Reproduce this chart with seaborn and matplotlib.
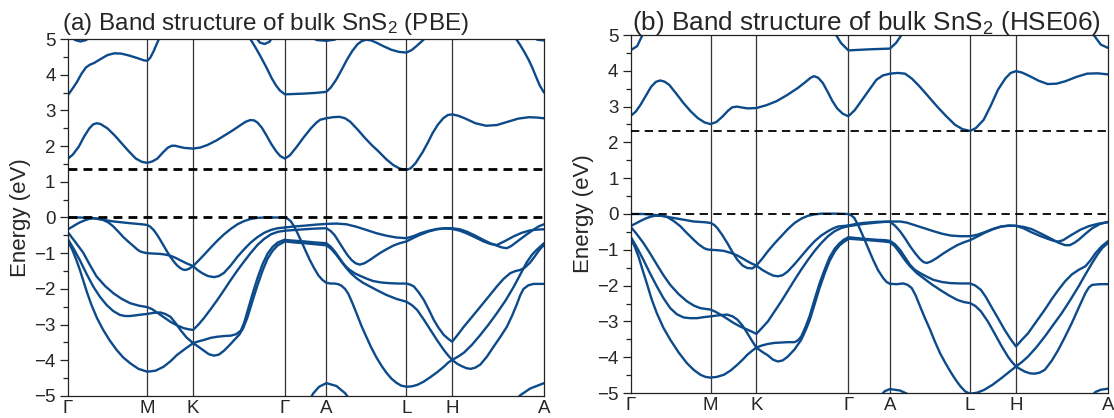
import numpy as np
import pandas as pd
import matplotlib
matplotlib.use("Agg")
import matplotlib.pyplot as plt
import seaborn as sns

# ---------------- data (k-path position in % of path, energy in eV) ----------------
kpath_labels = ["Γ", "M", "K", "Γ", "A", "L", "H", "A"]
kpath_pos = [0.0, 16.67, 26.28, 45.57, 54.28, 71.10, 80.71, 100.0]

pbe_gap_level = 1.35
hse_gap_level = 2.33

# ---- PBE conduction bands
pbe_c1 = [(0, 1.65), (1.0, 1.76), (2.25, 1.98), (3.4, 2.27), (4.5, 2.50), (5.3, 2.61), (6.0, 2.64),
          (6.8, 2.62), (8.26, 2.50), (9.8, 2.30), (11.26, 2.08), (12.8, 1.85), (14.26, 1.65),
          (15.5, 1.56), (16.67, 1.53), (17.7, 1.57), (18.77, 1.65), (20.0, 1.83), (21.02, 1.96),
          (21.8, 2.01), (22.52, 2.01), (23.4, 1.98), (24.4, 1.95), (26.28, 1.93), (27.8, 1.96),
          (29.28, 2.03), (31.2, 2.16), (33.03, 2.31), (34.6, 2.44), (36.04, 2.57), (37.3, 2.68),
          (38.3, 2.73), (39.1, 2.72), (39.8, 2.66), (40.7, 2.52), (41.7, 2.30), (42.7, 2.06),
          (43.7, 1.86), (44.6, 1.72), (45.57, 1.65), (46.6, 1.74), (48.05, 1.98), (49.6, 2.26),
          (51.05, 2.50), (52.2, 2.66), (53.0, 2.74), (54.28, 2.78), (55.7, 2.81), (57.06, 2.82),
          (58.2, 2.78), (59.31, 2.68), (60.8, 2.47), (62.31, 2.24), (63.8, 2.03), (65.32, 1.84),
          (66.8, 1.64), (68.32, 1.47), (69.7, 1.37), (71.1, 1.33), (72.0, 1.38), (73.0, 1.52),
          (74.5, 1.83), (75.6, 2.10), (76.58, 2.36), (77.7, 2.60), (78.83, 2.78), (79.8, 2.87),
          (80.71, 2.89), (82.0, 2.85), (83.33, 2.78), (85.6, 2.64), (87.84, 2.57), (90.1, 2.59),
          (92.34, 2.68), (94.6, 2.77), (96.85, 2.81), (98.5, 2.80), (100, 2.78)]
pbe_c2 = [(0, 3.43), (0.9, 3.60), (1.9, 3.80), (2.8, 4.02), (3.75, 4.20), (4.6, 4.28), (5.5, 4.33),
          (7.0, 4.45), (8.3, 4.55), (9.76, 4.60), (11.2, 4.59), (12.76, 4.54), (14.7, 4.46),
          (16.0, 4.40), (16.67, 4.39), (17.3, 4.48), (18.0, 4.66), (18.6, 4.85), (19.1, 5.0), (19.5, 5.1)]
pbe_c3 = [(0.3, 5.1), (1.5, 4.97), (2.6, 4.93), (3.8, 4.97), (4.8, 5.1)]
pbe_c4 = [(37.8, 5.1), (38.3, 5.0), (39.4, 4.76), (40.5, 4.50), (41.7, 4.20), (42.8, 3.90), (43.7, 3.70),
          (44.5, 3.56), (45.57, 3.45), (47.5, 3.46), (49.5, 3.47), (52.0, 3.49), (54.28, 3.52),
          (55.2, 3.64), (56.3, 3.85), (57.5, 4.14), (58.56, 4.41), (59.7, 4.66), (60.8, 4.85),
          (61.7, 4.94), (62.6, 4.98), (63.7, 4.96), (64.9, 4.89), (66.4, 4.79), (67.9, 4.70),
          (69.5, 4.64), (71.1, 4.62), (72.2, 4.69), (73.2, 4.80), (74.2, 4.92), (75.0, 5.02), (75.5, 5.1)]
pbe_c5 = [(39.2, 5.1), (40.3, 4.90), (41.3, 4.86), (42.3, 4.92), (43.2, 5.1)]
pbe_c6 = [(50.3, 5.1), (52.3, 4.97), (54.28, 4.95), (56.0, 4.98), (57.8, 5.1)]
pbe_c7 = [(93.6, 5.1), (94.3, 4.97), (95.0, 4.83), (95.9, 4.63), (96.8, 4.41), (97.6, 4.18),
          (98.3, 3.95), (99.1, 3.70), (100, 3.50)]
pbe_c8 = [(97.3, 5.1), (98.6, 4.98), (100, 4.96)]

# ---- PBE valence bands
pbe_v1 = [(0, 0), (2.47, 0), (4.58, -0.01), (6.70, -0.05), (9.52, -0.11), (13.04, -0.16), (15.5, -0.19),
          (16.67, -0.21), (17.3, -0.26), (17.98, -0.35), (18.7, -0.48), (19.39, -0.63), (20.1, -0.79),
          (20.8, -0.95), (21.5, -1.10), (22.2, -1.23), (22.9, -1.34), (23.62, -1.42), (24.2, -1.46),
          (24.68, -1.47), (25.4, -1.44), (26.28, -1.36), (27.4, -1.21), (28.55, -1.05), (30.0, -0.84),
          (31.37, -0.65), (32.8, -0.47), (34.19, -0.32), (35.6, -0.19), (37.0, -0.10), (38.4, -0.04),
          (39.8, -0.01), (41.2, 0), (42.65, 0), (44.1, 0), (45.57, 0)]
pbe_v2 = [(0, -0.33), (0.9, -0.26), (1.76, -0.19), (2.6, -0.13), (3.53, -0.08), (4.4, -0.04),
          (5.29, -0.02), (6.3, -0.03), (7.40, -0.07), (8.5, -0.14), (9.52, -0.25), (10.6, -0.40),
          (11.63, -0.55), (12.7, -0.68), (13.75, -0.80), (14.5, -0.89), (15.16, -0.95), (15.9, -0.98),
          (16.67, -1.0), (18.0, -1.01), (19.39, -1.02), (20.5, -1.04), (21.5, -1.07), (22.6, -1.13),
          (23.62, -1.2), (25.0, -1.29), (26.28, -1.36), (27.2, -1.47), (28.2, -1.56), (29.4, -1.64),
          (30.67, -1.67), (31.7, -1.64), (32.78, -1.55), (34.2, -1.34), (35.6, -1.10), (37.0, -0.89),
          (38.4, -0.70), (39.8, -0.55), (41.2, -0.43), (42.6, -0.35), (44.06, -0.30), (45.57, -0.28)]
pbe_v3 = [(0, -0.42), (1.5, -0.68), (3.17, -0.98), (4.6, -1.33), (5.99, -1.65), (7.8, -1.92),
          (9.52, -2.12), (11.3, -2.28), (13.04, -2.40), (14.9, -2.47), (16.67, -2.51), (17.7, -2.57),
          (18.68, -2.66), (20.1, -2.79), (21.5, -2.92), (22.9, -3.02), (24.32, -3.10), (25.3, -3.13),
          (26.28, -3.15), (27.4, -3.0), (28.55, -2.82), (29.96, -2.57), (31.37, -2.31), (32.8, -2.03),
          (34.19, -1.75), (35.6, -1.48), (37.0, -1.23), (38.4, -0.99), (39.8, -0.77), (41.2, -0.60),
          (42.65, -0.47), (44.1, -0.40), (45.57, -0.37)]
pbe_v4 = [(0, -0.61), (1.2, -0.88), (2.47, -1.19), (3.9, -1.58), (5.29, -1.93), (6.7, -2.22),
          (8.11, -2.45), (9.5, -2.62), (10.93, -2.73), (12.0, -2.76), (13.04, -2.76), (14.8, -2.73),
          (16.67, -2.70), (18.0, -2.67), (19.39, -2.66), (20.4, -2.70), (21.5, -2.78), (22.5, -2.94),
          (23.62, -3.15), (24.9, -3.36), (26.28, -3.52), (27.4, -3.62), (28.55, -3.73), (29.6, -3.83),
          (30.67, -3.87), (31.7, -3.84), (32.78, -3.73), (33.9, -3.58), (35.0, -3.42), (36.0, -3.28),
          (36.8, -3.10), (37.7, -2.80), (38.8, -2.32), (39.8, -1.90), (40.9, -1.48), (41.9, -1.16),
          (43.0, -0.93), (44.06, -0.78), (45.57, -0.67)]
pbe_v5 = [(0, -0.67), (0.9, -0.90), (1.76, -1.19), (2.5, -1.47), (3.17, -1.75), (4.0, -2.10),
          (4.93, -2.45), (6.1, -2.82), (7.40, -3.15), (8.8, -3.45), (10.22, -3.71), (11.6, -3.92),
          (13.04, -4.08), (14.8, -4.24), (16.67, -4.32), (18.4, -4.29), (20.09, -4.18), (21.5, -4.03),
          (22.9, -3.85), (24.6, -3.68), (26.28, -3.52), (27.4, -3.47), (28.55, -3.43), (30.0, -3.37),
          (31.37, -3.34), (32.8, -3.32), (34.19, -3.31), (35.3, -3.27), (36.31, -3.17), (37.0, -2.95),
          (37.7, -2.63), (38.7, -2.17), (39.8, -1.70), (40.9, -1.30), (41.9, -1.02), (43.0, -0.82),
          (44.06, -0.70), (45.57, -0.62)]
pbe_v6 = [(45.57, 0), (46.2, -0.04), (46.83, -0.11), (47.5, -0.25), (48.22, -0.44), (49.1, -0.69),
          (49.97, -0.95), (50.8, -1.19), (51.71, -1.42), (52.6, -1.62), (53.46, -1.75), (54.28, -1.83),
          (55.2, -1.85), (56.05, -1.85), (56.8, -1.87), (57.45, -1.91), (58.2, -2.0), (58.86, -2.13),
          (59.7, -2.38), (60.6, -2.68), (61.6, -3.02), (62.7, -3.35), (63.7, -3.64), (64.8, -3.92),
          (65.9, -4.16), (66.9, -4.35), (68.0, -4.52), (69.0, -4.63), (70.0, -4.71), (71.1, -4.74),
          (72.2, -4.73), (73.35, -4.69), (74.7, -4.60), (76.15, -4.47), (77.6, -4.33), (78.95, -4.18),
          (79.9, -4.06), (80.71, -3.99), (81.9, -3.90), (83.15, -3.79), (84.9, -3.56), (86.62, -3.29),
          (88.4, -2.99), (90.1, -2.68), (91.9, -2.33), (93.6, -1.95), (95.0, -1.60), (96.4, -1.25),
          (97.5, -1.04), (98.5, -0.90), (100, -0.72)]
pbe_v7 = [(45.57, -0.28), (47.6, -0.25), (49.62, -0.23), (52.0, -0.20), (54.28, -0.18), (56.4, -0.17),
          (58.5, -0.19), (60.6, -0.26), (62.7, -0.35), (64.8, -0.44), (66.9, -0.51), (69.0, -0.56),
          (71.1, -0.58), (72.6, -0.52), (74.05, -0.44), (75.8, -0.37), (77.55, -0.32), (79.1, -0.30),
          (80.71, -0.30), (82.3, -0.33), (83.85, -0.40), (85.6, -0.51), (87.3, -0.63), (88.7, -0.72),
          (90.1, -0.79), (91.2, -0.84), (92.2, -0.86), (93.1, -0.80), (94.0, -0.71), (95.0, -0.61),
          (96.4, -0.47), (97.8, -0.34), (99.0, -0.24), (100, -0.19)]
pbe_v8 = [(45.57, -0.37), (47.6, -0.35), (49.62, -0.33), (52.0, -0.31), (54.28, -0.30), (55.2, -0.38),
          (56.05, -0.50), (56.9, -0.68), (57.8, -0.87), (58.7, -1.05), (59.56, -1.19), (60.4, -1.28),
          (61.3, -1.32), (62.3, -1.28), (63.4, -1.19), (64.5, -1.09), (65.5, -1.0), (66.9, -0.89),
          (68.3, -0.79), (69.7, -0.72), (71.1, -0.67), (72.6, -0.57), (74.05, -0.48), (75.8, -0.39),
          (77.55, -0.33), (79.1, -0.31), (80.71, -0.32), (82.3, -0.37), (83.85, -0.45), (85.6, -0.56),
          (87.3, -0.67), (88.7, -0.74), (90.1, -0.77), (91.8, -0.66), (93.6, -0.53), (95.3, -0.43),
          (97.1, -0.36), (98.5, -0.34), (100, -0.33)]
pbe_v9 = [(45.57, -0.63), (47.6, -0.65), (49.62, -0.67), (52.0, -0.70), (54.28, -0.72), (55.2, -0.82),
          (56.05, -0.95), (56.9, -1.11), (57.8, -1.28), (58.5, -1.39), (59.21, -1.47), (60.2, -1.56),
          (61.3, -1.63), (62.7, -1.71), (64.1, -1.78), (65.8, -1.82), (67.6, -1.84), (69.4, -1.85),
          (71.1, -1.85), (71.9, -1.88), (72.65, -1.93), (73.7, -2.10), (74.75, -2.31), (75.8, -2.58),
          (76.85, -2.87), (77.9, -3.10), (78.95, -3.29), (79.9, -3.40), (80.71, -3.48), (81.9, -3.28),
          (83.15, -3.06), (84.9, -2.78), (86.62, -2.50), (88.4, -2.21), (90.1, -1.93), (91.5, -1.72),
          (92.9, -1.56), (94.0, -1.50), (95.0, -1.47), (96.0, -1.40), (97.1, -1.26), (98.0, -1.10),
          (98.8, -0.95), (99.4, -0.85), (100, -0.77)]
pbe_v10 = [(45.57, -0.67), (47.6, -0.70), (49.62, -0.72), (52.0, -0.75), (54.28, -0.78), (55.3, -0.88),
           (56.4, -1.05), (57.5, -1.25), (58.5, -1.42), (59.5, -1.57), (60.6, -1.70), (62.0, -1.83),
           (63.4, -1.93), (65.1, -2.05), (66.9, -2.17), (69.0, -2.28), (71.1, -2.36), (72.2, -2.45),
           (73.35, -2.59), (74.7, -2.85), (76.15, -3.15), (77.6, -3.45), (78.95, -3.71), (79.9, -3.87),
           (80.71, -3.99), (81.8, -4.10), (82.8, -4.17), (83.7, -4.22), (84.54, -4.24), (85.5, -4.21),
           (86.62, -4.12), (88.0, -3.90), (89.4, -3.62), (90.8, -3.35), (92.2, -3.06), (93.3, -2.75),
           (94.3, -2.43), (95.0, -2.18), (95.7, -2.0), (96.7, -1.90), (97.8, -1.86), (100, -1.86)]
pbe_v11 = [(50.6, -5.15), (51.5, -4.93), (52.76, -4.74), (54.28, -4.64), (56.4, -4.72), (58.2, -4.92),
           (59.5, -5.15)]
pbe_v12 = [(93.8, -5.15), (95.0, -4.98), (97.1, -4.79), (100, -4.64)]

# ---- HSE06 conduction bands
hse_c1 = [(0, 2.75), (1.0, 2.86), (2.0, 3.05), (3.1, 3.30), (4.2, 3.55), (5.2, 3.69), (6.1, 3.73),
          (7.0, 3.70), (8.0, 3.61), (9.5, 3.36), (11.0, 3.10), (12.5, 2.87), (14.0, 2.68), (15.4, 2.56),
          (16.67, 2.51), (17.9, 2.57), (19.25, 2.73), (20.3, 2.88), (21.2, 2.98), (22.25, 3.0),
          (23.4, 2.97), (24.49, 2.95), (26.28, 2.96), (28.4, 3.04), (30.49, 3.15), (32.7, 3.32),
          (34.98, 3.52), (36.7, 3.70), (37.6, 3.80), (38.35, 3.85), (39.2, 3.81), (40.22, 3.66),
          (41.2, 3.42), (42.2, 3.16), (43.22, 2.95), (44.4, 2.80), (45.57, 2.73), (46.9, 2.90),
          (48.46, 3.19), (50.0, 3.48), (51.46, 3.75), (52.8, 3.87), (54.28, 3.92), (55.9, 3.94),
          (57.45, 3.92), (58.9, 3.78), (60.45, 3.57), (62.3, 3.29), (64.19, 3.0), (66.1, 2.73),
          (67.94, 2.49), (69.5, 2.37), (71.1, 2.32), (72.3, 2.40), (73.93, 2.63), (75.4, 3.02),
          (76.93, 3.47), (78.5, 3.79), (79.6, 3.94), (80.71, 3.99), (82.0, 3.95), (83.6, 3.85),
          (85.5, 3.72), (87.36, 3.63), (89.2, 3.64), (91.1, 3.71), (93.4, 3.83), (95.6, 3.92),
          (97.8, 3.93), (100, 3.90)]
hse_c2 = [(0, 4.58), (1.3, 4.69), (2.4, 5.0), (2.8, 5.1)]
hse_c3 = [(42.6, 5.1), (43.0, 5.0), (44.0, 4.78), (45.57, 4.57), (49.96, 4.60), (54.28, 4.62),
          (55.58, 4.78), (56.7, 5.0), (57.0, 5.1)]
hse_c4 = [(96.7, 5.1), (97.0, 5.0), (98.5, 4.73), (100, 4.64)]

# ---- HSE06 valence bands
hse_v1 = [(0, 0), (2.6, 0), (5.41, -0.03), (8.93, -0.11), (13.15, -0.21), (15.5, -0.23), (16.67, -0.25),
          (17.4, -0.30), (18.08, -0.39), (19.1, -0.58), (20.18, -0.81), (21.2, -1.05), (22.3, -1.28),
          (23.4, -1.44), (24.4, -1.51), (25.45, -1.52), (26.28, -1.44), (27.5, -1.25), (28.7, -1.04),
          (30.1, -0.82), (31.5, -0.62), (32.9, -0.42), (34.3, -0.25), (35.7, -0.13), (37.1, -0.05),
          (38.5, -0.01), (39.9, 0.01), (42.7, 0.01), (45.57, 0)]
hse_v2 = [(0, -0.33), (0.9, -0.27), (1.9, -0.20), (3.0, -0.13), (4.0, -0.08), (5.0, -0.05), (5.76, -0.05),
          (6.6, -0.05), (7.52, -0.08), (8.9, -0.19), (10.33, -0.34), (11.7, -0.53), (13.15, -0.72),
          (14.2, -0.85), (15.26, -0.95), (16.0, -0.99), (16.67, -1.0), (18.0, -1.01), (19.48, -1.03),
          (21.0, -1.09), (22.3, -1.16), (23.4, -1.24), (24.4, -1.32), (25.4, -1.39), (26.28, -1.44),
          (27.5, -1.56), (28.7, -1.65), (29.8, -1.72), (30.8, -1.74), (31.8, -1.71), (32.9, -1.60),
          (34.3, -1.40), (35.7, -1.18), (37.1, -0.96), (38.5, -0.76), (39.9, -0.60), (41.3, -0.48),
          (42.4, -0.40), (43.4, -0.35), (45.57, -0.32)]
hse_v3 = [(0, -0.37), (1.2, -0.56), (2.6, -0.81), (4.0, -1.10), (5.41, -1.41), (6.8, -1.71), (8.23, -1.98),
          (10.0, -2.24), (11.74, -2.44), (13.2, -2.56), (14.55, -2.63), (16.67, -2.67), (17.7, -2.73),
          (18.78, -2.81), (20.2, -2.93), (21.6, -3.05), (23.0, -3.15), (24.4, -3.23), (25.4, -3.29),
          (26.28, -3.35), (27.4, -3.19), (28.7, -3.0), (30.1, -2.72), (31.5, -2.44), (32.9, -2.14),
          (34.3, -1.84), (35.7, -1.55), (37.1, -1.28), (38.5, -1.03), (39.9, -0.81), (41.3, -0.62),
          (42.7, -0.48), (44.1, -0.39), (45.57, -0.34)]
hse_v4 = [(0, -0.65), (1.3, -0.95), (2.6, -1.28), (4.0, -1.66), (5.41, -2.02), (6.8, -2.35), (8.23, -2.63),
          (9.6, -2.80), (11.04, -2.89), (12.4, -2.91), (13.85, -2.91), (15.3, -2.88), (16.67, -2.86),
          (18.4, -2.83), (20.18, -2.81), (21.3, -2.86), (22.3, -2.95), (23.4, -3.12), (24.4, -3.33),
          (25.4, -3.55), (26.28, -3.73), (27.5, -3.85), (28.7, -3.95), (29.8, -4.07), (30.8, -4.12),
          (31.8, -4.09), (32.9, -3.98), (34.3, -3.78), (35.7, -3.51), (36.6, -3.25), (37.45, -2.97),
          (38.5, -2.52), (39.5, -2.08), (40.6, -1.66), (41.6, -1.32), (42.7, -1.05), (43.7, -0.88),
          (44.6, -0.78), (45.57, -0.70)]
hse_v5 = [(0, -0.70), (0.8, -0.92), (1.55, -1.18), (2.4, -1.55), (3.3, -1.93), (4.3, -2.37), (5.41, -2.77),
          (6.8, -3.18), (8.23, -3.51), (10.0, -3.87), (11.74, -4.17), (13.2, -4.36), (14.55, -4.49),
          (15.6, -4.55), (16.67, -4.57), (18.0, -4.55), (19.48, -4.49), (20.9, -4.37), (22.3, -4.21),
          (23.4, -4.07), (24.4, -3.93), (25.4, -3.82), (26.28, -3.73), (27.5, -3.67), (28.7, -3.63),
          (30.1, -3.60), (31.5, -3.59), (32.9, -3.58), (34.3, -3.58), (35.0, -3.53), (35.7, -3.42),
          (36.6, -3.15), (37.45, -2.85), (38.5, -2.38), (39.5, -1.95), (40.6, -1.55), (41.6, -1.22),
          (42.7, -0.97), (43.7, -0.82), (44.6, -0.72), (45.57, -0.65)]
hse_v6 = [(45.57, 0), (46.2, -0.04), (46.8, -0.11), (47.7, -0.33), (48.65, -0.62), (49.7, -0.95),
          (50.76, -1.28), (51.8, -1.57), (52.87, -1.79), (53.6, -1.90), (54.28, -1.95), (55.7, -1.96),
          (57.1, -1.94), (58.0, -1.98), (58.86, -2.07), (59.7, -2.28), (60.6, -2.58), (61.6, -2.90),
          (62.7, -3.23), (63.7, -3.56), (64.8, -3.89), (65.9, -4.16), (66.95, -4.40), (68.0, -4.62),
          (69.1, -4.82), (70.1, -4.96), (71.1, -5.02), (72.6, -4.99), (74.07, -4.91), (75.8, -4.77),
          (77.6, -4.59), (79.2, -4.42), (80.71, -4.26), (82.0, -4.13), (83.25, -3.98), (85.0, -3.72),
          (86.77, -3.42), (88.5, -3.10), (90.3, -2.77), (92.1, -2.40), (93.85, -2.02), (95.3, -1.68),
          (96.67, -1.37), (97.8, -1.13), (98.8, -0.95), (100, -0.81)]
hse_v7 = [(45.57, -0.32), (47.1, -0.28), (48.65, -0.25), (51.46, -0.22), (54.28, -0.21), (56.39, -0.21),
          (57.8, -0.24), (59.2, -0.30), (61.3, -0.39), (63.4, -0.48), (65.2, -0.55), (66.95, -0.60),
          (69.0, -0.62), (71.1, -0.62), (72.6, -0.58), (74.07, -0.51), (75.8, -0.42), (77.6, -0.35),
          (79.2, -0.33), (80.71, -0.33), (82.3, -0.36), (83.95, -0.42), (86.0, -0.55), (88.2, -0.70),
          (89.6, -0.80), (91.0, -0.87), (92.0, -0.87), (93.0, -0.80), (93.85, -0.72), (95.3, -0.55),
          (96.67, -0.40), (98.3, -0.28), (100, -0.22)]
hse_v8 = [(45.57, -0.34), (48.65, -0.28), (51.46, -0.24), (53.2, -0.22), (54.28, -0.22), (55.3, -0.32),
          (56.39, -0.48), (57.5, -0.69), (58.5, -0.90), (59.6, -1.10), (60.6, -1.26), (61.3, -1.34),
          (62.0, -1.37), (63.0, -1.32), (64.1, -1.23), (65.5, -1.10), (66.95, -0.98), (68.4, -0.87),
          (69.8, -0.79), (71.1, -0.73), (72.6, -0.63), (74.07, -0.53), (75.8, -0.43), (77.6, -0.35),
          (79.2, -0.32), (80.71, -0.33), (82.3, -0.40), (83.95, -0.51), (85.7, -0.61), (87.5, -0.70),
          (88.6, -0.75), (89.6, -0.77), (90.6, -0.73), (92.4, -0.58), (94.2, -0.44), (95.97, -0.34),
          (98.0, -0.27), (100, -0.23)]
hse_v9 = [(45.57, -0.65), (48.65, -0.69), (51.46, -0.72), (53.2, -0.73), (54.28, -0.75), (55.3, -0.84),
          (56.39, -1.0), (57.5, -1.22), (58.5, -1.42), (59.5, -1.56), (60.6, -1.65), (62.0, -1.75),
          (63.4, -1.84), (65.2, -1.90), (66.95, -1.93), (69.0, -1.94), (71.1, -1.94), (72.2, -2.0),
          (73.36, -2.12), (74.4, -2.32), (75.5, -2.58), (76.9, -2.90), (78.3, -3.23), (79.5, -3.48),
          (80.71, -3.70), (81.9, -3.52), (83.25, -3.33), (85.0, -3.0), (86.77, -2.67), (88.2, -2.38),
          (89.6, -2.12), (91.0, -1.88), (92.4, -1.69), (93.85, -1.56), (95.26, -1.46), (96.3, -1.30),
          (97.4, -1.09), (98.7, -0.90), (100, -0.76)]
hse_v10 = [(45.57, -0.69), (48.65, -0.72), (51.46, -0.75), (53.2, -0.77), (54.28, -0.79), (55.3, -0.90),
           (56.39, -1.09), (57.5, -1.30), (58.5, -1.46), (59.9, -1.65), (61.3, -1.79), (63.0, -1.96),
           (64.8, -2.12), (66.6, -2.27), (68.4, -2.40), (69.8, -2.46), (71.1, -2.49), (72.2, -2.57),
           (73.36, -2.72), (74.8, -3.0), (76.2, -3.33), (77.6, -3.67), (79.0, -3.98), (79.9, -4.14),
           (80.71, -4.26), (81.7, -4.34), (82.54, -4.40), (83.6, -4.45), (84.66, -4.46), (85.7, -4.43),
           (86.77, -4.35), (88.2, -4.10), (89.6, -3.79), (91.0, -3.43), (92.4, -3.05), (93.85, -2.62),
           (95.26, -2.21), (96.0, -2.05), (96.67, -1.98), (98.3, -1.96), (100, -1.96)]
hse_v11 = [(52.0, -5.12), (53.2, -4.95), (54.28, -4.89), (56.39, -4.93), (58.0, -5.03), (58.8, -5.12)]
hse_v12 = [(96.2, -5.12), (97.4, -4.97), (98.45, -4.91), (100, -4.88)]

pbe_curves = [pbe_c1, pbe_c2, pbe_c3, pbe_c4, pbe_c5, pbe_c6, pbe_c7, pbe_c8,
              pbe_v1, pbe_v2, pbe_v3, pbe_v4, pbe_v5, pbe_v6, pbe_v7, pbe_v8, pbe_v9,
              pbe_v10, pbe_v11, pbe_v12]
hse_curves = [hse_c1, hse_c2, hse_c3, hse_c4,
              hse_v1, hse_v2, hse_v3, hse_v4, hse_v5, hse_v6, hse_v7, hse_v8, hse_v9,
              hse_v10, hse_v11, hse_v12]


def to_frame(curves):
    rows = []
    for i, c in enumerate(curves):
        for k, e in c:
            rows.append({"k": k, "E": e, "curve": i})
    return pd.DataFrame(rows)


# ---------------- style ----------------
sns.set_style("white")
plt.rcParams["font.family"] = ["Liberation Sans", "DejaVu Sans"]
plt.rcParams["mathtext.fontset"] = "custom"
plt.rcParams["mathtext.rm"] = "Liberation Sans"
plt.rcParams["mathtext.default"] = "regular"

BLUE = "#0c4a8a"

fig = plt.figure(figsize=(11.14, 4.18), dpi=100)
ax1 = fig.add_axes([68 / 1114, 1 - 396 / 418, 476 / 1114, 357 / 418])
ax2 = fig.add_axes([631 / 1114, 1 - 393 / 418, 477 / 1114, 358 / 418])

panels = [
    (ax1, pbe_curves, pbe_gap_level, 2.0, (3.2, 2.2),
     "(a) Band structure of bulk SnS$_2$ (PBE)", 62, 17.5),
    (ax2, hse_curves, hse_gap_level, 1.3, (4.6, 3.0),
     "(b) Band structure of bulk SnS$_2$ (HSE06)", 632, 18.8),
]

for ax, curves, gap, dlw, dash, title, tx, tfs in panels:
    df = to_frame(curves)
    for xv in kpath_pos[1:-1]:
        ax.axvline(xv, color="#333333", lw=0.9, zorder=1)
    sns.lineplot(data=df, x="k", y="E", units="curve", estimator=None, sort=False,
                 color=BLUE, lw=1.7, ax=ax, legend=False, zorder=2)
    ax.axhline(0, color="black", lw=dlw, linestyle=(0, dash), zorder=3)
    ax.axhline(gap, color="black", lw=dlw, linestyle=(0, dash), zorder=3)

    ax.set_xlim(0, 100)
    ax.set_ylim(-5, 5)
    ax.set_xticks(kpath_pos)
    ax.set_xticklabels(kpath_labels, fontsize=13.5)
    ax.set_yticks(np.arange(-5, 6, 1))
    ax.set_yticks(np.arange(-5, 5.01, 0.5), minor=True)
    ax.tick_params(axis="y", which="major", direction="out", length=6, width=0.9,
                   labelsize=13.5, pad=3, left=True, color="#222222")
    ax.tick_params(axis="y", which="minor", direction="out", length=3.5, width=0.9,
                   left=True, color="#222222")
    ax.tick_params(axis="x", which="both", length=0, pad=3)
    ax.set_xlabel("")
    ax.set_ylabel("Energy (eV)", fontsize=16, labelpad=2)
    for sp in ax.spines.values():
        sp.set_color("#222222")
        sp.set_linewidth(0.9)
    fig.text(tx / 1114, 1 - 30 / 418, title, fontsize=tfs, ha="left", va="baseline")

fig.savefig("out.png", dpi=100)
